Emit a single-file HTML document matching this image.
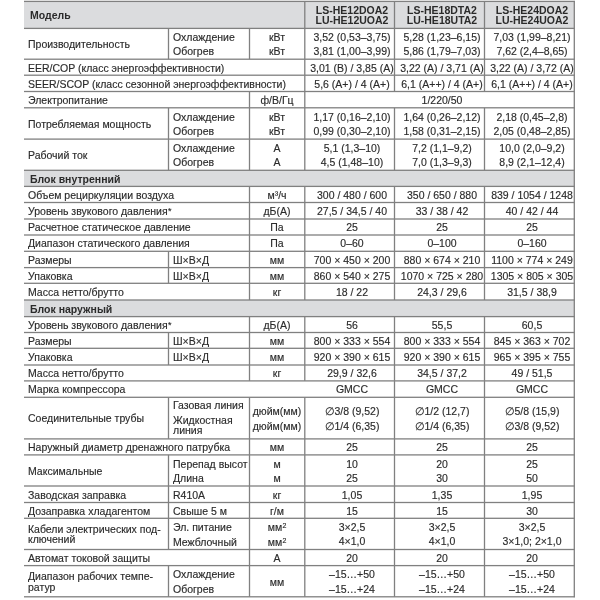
<!DOCTYPE html>
<html><head><meta charset="utf-8"><style>
html,body{margin:0;padding:0;background:#fff;width:600px;height:600px;overflow:hidden}
body{position:relative;font-family:"Liberation Sans",sans-serif;font-size:10.5px;color:#2b2b2b}
svg{position:absolute;left:0;top:0}
.t{position:absolute;line-height:12px;white-space:nowrap;will-change:transform;-webkit-text-stroke:0.15px #2b2b2b}
.b{-webkit-text-stroke:0}
.c{text-align:center;width:200px}
.b{font-weight:bold}
.ast{font-size:9px;position:relative;top:-1px;margin-left:0.5px}
sup{font-size:7px;vertical-align:baseline;position:relative;top:-3.5px;line-height:0;margin-left:0.3px}
</style></head><body>

<svg width="600" height="600" viewBox="0 0 600 600"><rect x="24" y="1.4" width="550.3" height="27" fill="#dbdcde"/><rect x="24" y="170.3" width="550.3" height="16.1" fill="#dbdcde"/><rect x="24" y="300" width="550.3" height="16.6" fill="#dbdcde"/><rect x="304.15" y="1.4" width="1.3" height="27" fill="#808080"/><rect x="393.85" y="1.4" width="1.3" height="27" fill="#808080"/><rect x="483.85" y="1.4" width="1.3" height="27" fill="#808080"/><rect x="167.85" y="28.4" width="1.3" height="30.8" fill="#808080"/><rect x="248.85" y="28.4" width="1.3" height="30.8" fill="#808080"/><rect x="304.15" y="28.4" width="1.3" height="30.8" fill="#808080"/><rect x="393.85" y="28.4" width="1.3" height="30.8" fill="#808080"/><rect x="483.85" y="28.4" width="1.3" height="30.8" fill="#808080"/><rect x="304.15" y="59.2" width="1.3" height="16" fill="#808080"/><rect x="393.85" y="59.2" width="1.3" height="16" fill="#808080"/><rect x="483.85" y="59.2" width="1.3" height="16" fill="#808080"/><rect x="304.15" y="75.2" width="1.3" height="16.3" fill="#808080"/><rect x="393.85" y="75.2" width="1.3" height="16.3" fill="#808080"/><rect x="483.85" y="75.2" width="1.3" height="16.3" fill="#808080"/><rect x="248.85" y="91.5" width="1.3" height="16.3" fill="#808080"/><rect x="304.15" y="91.5" width="1.3" height="16.3" fill="#808080"/><rect x="167.85" y="107.8" width="1.3" height="31.3" fill="#808080"/><rect x="248.85" y="107.8" width="1.3" height="31.3" fill="#808080"/><rect x="304.15" y="107.8" width="1.3" height="31.3" fill="#808080"/><rect x="393.85" y="107.8" width="1.3" height="31.3" fill="#808080"/><rect x="483.85" y="107.8" width="1.3" height="31.3" fill="#808080"/><rect x="167.85" y="139.1" width="1.3" height="31.2" fill="#808080"/><rect x="248.85" y="139.1" width="1.3" height="31.2" fill="#808080"/><rect x="304.15" y="139.1" width="1.3" height="31.2" fill="#808080"/><rect x="393.85" y="139.1" width="1.3" height="31.2" fill="#808080"/><rect x="483.85" y="139.1" width="1.3" height="31.2" fill="#808080"/><rect x="248.85" y="186.4" width="1.3" height="16.1" fill="#808080"/><rect x="304.15" y="186.4" width="1.3" height="16.1" fill="#808080"/><rect x="393.85" y="186.4" width="1.3" height="16.1" fill="#808080"/><rect x="483.85" y="186.4" width="1.3" height="16.1" fill="#808080"/><rect x="248.85" y="202.5" width="1.3" height="16.5" fill="#808080"/><rect x="304.15" y="202.5" width="1.3" height="16.5" fill="#808080"/><rect x="393.85" y="202.5" width="1.3" height="16.5" fill="#808080"/><rect x="483.85" y="202.5" width="1.3" height="16.5" fill="#808080"/><rect x="248.85" y="219" width="1.3" height="16" fill="#808080"/><rect x="304.15" y="219" width="1.3" height="16" fill="#808080"/><rect x="393.85" y="219" width="1.3" height="16" fill="#808080"/><rect x="483.85" y="219" width="1.3" height="16" fill="#808080"/><rect x="248.85" y="235" width="1.3" height="16.3" fill="#808080"/><rect x="304.15" y="235" width="1.3" height="16.3" fill="#808080"/><rect x="393.85" y="235" width="1.3" height="16.3" fill="#808080"/><rect x="483.85" y="235" width="1.3" height="16.3" fill="#808080"/><rect x="167.85" y="251.3" width="1.3" height="16.3" fill="#808080"/><rect x="248.85" y="251.3" width="1.3" height="16.3" fill="#808080"/><rect x="304.15" y="251.3" width="1.3" height="16.3" fill="#808080"/><rect x="393.85" y="251.3" width="1.3" height="16.3" fill="#808080"/><rect x="483.85" y="251.3" width="1.3" height="16.3" fill="#808080"/><rect x="167.85" y="267.6" width="1.3" height="15.7" fill="#808080"/><rect x="248.85" y="267.6" width="1.3" height="15.7" fill="#808080"/><rect x="304.15" y="267.6" width="1.3" height="15.7" fill="#808080"/><rect x="393.85" y="267.6" width="1.3" height="15.7" fill="#808080"/><rect x="483.85" y="267.6" width="1.3" height="15.7" fill="#808080"/><rect x="248.85" y="283.3" width="1.3" height="16.7" fill="#808080"/><rect x="304.15" y="283.3" width="1.3" height="16.7" fill="#808080"/><rect x="393.85" y="283.3" width="1.3" height="16.7" fill="#808080"/><rect x="483.85" y="283.3" width="1.3" height="16.7" fill="#808080"/><rect x="248.85" y="316.6" width="1.3" height="15.9" fill="#808080"/><rect x="304.15" y="316.6" width="1.3" height="15.9" fill="#808080"/><rect x="393.85" y="316.6" width="1.3" height="15.9" fill="#808080"/><rect x="483.85" y="316.6" width="1.3" height="15.9" fill="#808080"/><rect x="167.85" y="332.5" width="1.3" height="15.8" fill="#808080"/><rect x="248.85" y="332.5" width="1.3" height="15.8" fill="#808080"/><rect x="304.15" y="332.5" width="1.3" height="15.8" fill="#808080"/><rect x="393.85" y="332.5" width="1.3" height="15.8" fill="#808080"/><rect x="483.85" y="332.5" width="1.3" height="15.8" fill="#808080"/><rect x="167.85" y="348.3" width="1.3" height="16.7" fill="#808080"/><rect x="248.85" y="348.3" width="1.3" height="16.7" fill="#808080"/><rect x="304.15" y="348.3" width="1.3" height="16.7" fill="#808080"/><rect x="393.85" y="348.3" width="1.3" height="16.7" fill="#808080"/><rect x="483.85" y="348.3" width="1.3" height="16.7" fill="#808080"/><rect x="248.85" y="365" width="1.3" height="15.9" fill="#808080"/><rect x="304.15" y="365" width="1.3" height="15.9" fill="#808080"/><rect x="393.85" y="365" width="1.3" height="15.9" fill="#808080"/><rect x="483.85" y="365" width="1.3" height="15.9" fill="#808080"/><rect x="393.85" y="380.9" width="1.3" height="16.4" fill="#808080"/><rect x="483.85" y="380.9" width="1.3" height="16.4" fill="#808080"/><rect x="167.85" y="397.3" width="1.3" height="41.6" fill="#808080"/><rect x="248.85" y="397.3" width="1.3" height="41.6" fill="#808080"/><rect x="304.15" y="397.3" width="1.3" height="41.6" fill="#808080"/><rect x="393.85" y="397.3" width="1.3" height="41.6" fill="#808080"/><rect x="483.85" y="397.3" width="1.3" height="41.6" fill="#808080"/><rect x="248.85" y="438.9" width="1.3" height="16" fill="#808080"/><rect x="304.15" y="438.9" width="1.3" height="16" fill="#808080"/><rect x="393.85" y="438.9" width="1.3" height="16" fill="#808080"/><rect x="483.85" y="438.9" width="1.3" height="16" fill="#808080"/><rect x="167.85" y="454.9" width="1.3" height="31.1" fill="#808080"/><rect x="248.85" y="454.9" width="1.3" height="31.1" fill="#808080"/><rect x="304.15" y="454.9" width="1.3" height="31.1" fill="#808080"/><rect x="393.85" y="454.9" width="1.3" height="31.1" fill="#808080"/><rect x="483.85" y="454.9" width="1.3" height="31.1" fill="#808080"/><rect x="167.85" y="486" width="1.3" height="16.5" fill="#808080"/><rect x="248.85" y="486" width="1.3" height="16.5" fill="#808080"/><rect x="304.15" y="486" width="1.3" height="16.5" fill="#808080"/><rect x="393.85" y="486" width="1.3" height="16.5" fill="#808080"/><rect x="483.85" y="486" width="1.3" height="16.5" fill="#808080"/><rect x="167.85" y="502.5" width="1.3" height="15.8" fill="#808080"/><rect x="248.85" y="502.5" width="1.3" height="15.8" fill="#808080"/><rect x="304.15" y="502.5" width="1.3" height="15.8" fill="#808080"/><rect x="393.85" y="502.5" width="1.3" height="15.8" fill="#808080"/><rect x="483.85" y="502.5" width="1.3" height="15.8" fill="#808080"/><rect x="167.85" y="518.3" width="1.3" height="31.2" fill="#808080"/><rect x="248.85" y="518.3" width="1.3" height="31.2" fill="#808080"/><rect x="304.15" y="518.3" width="1.3" height="31.2" fill="#808080"/><rect x="393.85" y="518.3" width="1.3" height="31.2" fill="#808080"/><rect x="483.85" y="518.3" width="1.3" height="31.2" fill="#808080"/><rect x="248.85" y="549.5" width="1.3" height="16.1" fill="#808080"/><rect x="304.15" y="549.5" width="1.3" height="16.1" fill="#808080"/><rect x="393.85" y="549.5" width="1.3" height="16.1" fill="#808080"/><rect x="483.85" y="549.5" width="1.3" height="16.1" fill="#808080"/><rect x="167.85" y="565.6" width="1.3" height="31.2" fill="#808080"/><rect x="248.85" y="565.6" width="1.3" height="31.2" fill="#808080"/><rect x="304.15" y="565.6" width="1.3" height="31.2" fill="#808080"/><rect x="393.85" y="565.6" width="1.3" height="31.2" fill="#808080"/><rect x="483.85" y="565.6" width="1.3" height="31.2" fill="#808080"/><rect x="573.65" y="0.9" width="1.3" height="596.4" fill="#808080"/><rect x="24" y="0.75" width="550.8" height="1.3" fill="#808080"/><rect x="24" y="27.75" width="550.8" height="1.3" fill="#808080"/><rect x="24" y="58.55" width="550.8" height="1.3" fill="#808080"/><rect x="24" y="74.55" width="550.8" height="1.3" fill="#808080"/><rect x="24" y="90.85" width="550.8" height="1.3" fill="#808080"/><rect x="24" y="107.15" width="550.8" height="1.3" fill="#808080"/><rect x="24" y="138.45" width="550.8" height="1.3" fill="#808080"/><rect x="24" y="169.65" width="550.8" height="1.3" fill="#808080"/><rect x="24" y="185.75" width="550.8" height="1.3" fill="#808080"/><rect x="24" y="201.85" width="550.8" height="1.3" fill="#808080"/><rect x="24" y="218.35" width="550.8" height="1.3" fill="#808080"/><rect x="24" y="234.35" width="550.8" height="1.3" fill="#808080"/><rect x="24" y="250.65" width="550.8" height="1.3" fill="#808080"/><rect x="24" y="266.95" width="550.8" height="1.3" fill="#808080"/><rect x="24" y="282.65" width="550.8" height="1.3" fill="#808080"/><rect x="24" y="299.35" width="550.8" height="1.3" fill="#808080"/><rect x="24" y="315.95" width="550.8" height="1.3" fill="#808080"/><rect x="24" y="331.85" width="550.8" height="1.3" fill="#808080"/><rect x="24" y="347.65" width="550.8" height="1.3" fill="#808080"/><rect x="24" y="364.35" width="550.8" height="1.3" fill="#808080"/><rect x="24" y="380.25" width="550.8" height="1.3" fill="#808080"/><rect x="24" y="396.65" width="550.8" height="1.3" fill="#808080"/><rect x="24" y="438.25" width="550.8" height="1.3" fill="#808080"/><rect x="24" y="454.25" width="550.8" height="1.3" fill="#808080"/><rect x="24" y="485.35" width="550.8" height="1.3" fill="#808080"/><rect x="24" y="501.85" width="550.8" height="1.3" fill="#808080"/><rect x="24" y="517.65" width="550.8" height="1.3" fill="#808080"/><rect x="24" y="548.85" width="550.8" height="1.3" fill="#808080"/><rect x="24" y="564.95" width="550.8" height="1.3" fill="#808080"/><rect x="24" y="596.15" width="550.8" height="1.3" fill="#808080"/></svg>
<div class="t b" style="left:30px;top:9px">Модель</div>
<div class="t b c" style="left:251.95px;top:4px">LS-HE12DOA2</div>
<div class="t b c" style="left:251.95px;top:14px">LU-HE12UOA2</div>
<div class="t b c" style="left:341.8px;top:4px">LS-HE18DTA2</div>
<div class="t b c" style="left:341.8px;top:14px">LU-HE18UTA2</div>
<div class="t b c" style="left:431.7px;top:4px">LS-HE24DOA2</div>
<div class="t b c" style="left:431.7px;top:14px">LU-HE24UOA2</div>
<div class="t" style="left:28px;top:38px">Производительность</div>
<div class="t" style="left:172.5px;top:31px">Охлаждение</div>
<div class="t" style="left:172.5px;top:45px">Обогрев</div>
<div class="t c" style="left:176.8px;top:31px">кВт</div>
<div class="t c" style="left:176.8px;top:45px">кВт</div>
<div class="t c" style="left:251.95px;top:31px">3,52 (0,53–3,75)</div>
<div class="t c" style="left:251.95px;top:45px">3,81 (1,00–3,99)</div>
<div class="t c" style="left:341.8px;top:31px">5,28 (1,23–6,15)</div>
<div class="t c" style="left:341.8px;top:45px">5,86 (1,79–7,03)</div>
<div class="t c" style="left:431.7px;top:31px">7,03 (1,99–8,21)</div>
<div class="t c" style="left:431.7px;top:45px">7,62 (2,4–8,65)</div>
<div class="t" style="left:28px;top:62px">EER/COP (класс энергоэффективности)</div>
<div class="t c" style="left:251.95px;top:62px">3,01 (B) / 3,85 (A)</div>
<div class="t c" style="left:341.8px;top:62px">3,22 (A) / 3,71 (A)</div>
<div class="t c" style="left:431.7px;top:62px">3,22 (A) / 3,72 (A)</div>
<div class="t" style="left:28px;top:78px">SEER/SCOP (класс сезонной энергоэффективности)</div>
<div class="t c" style="left:251.95px;top:78px">5,6 (A+) / 4 (A+)</div>
<div class="t c" style="left:341.8px;top:78px">6,1 (A++) / 4 (A+)</div>
<div class="t c" style="left:431.7px;top:78px">6,1 (A++) / 4 (A+)</div>
<div class="t" style="left:28px;top:94px">Электропитание</div>
<div class="t c" style="left:176.8px;top:94px">ф/В/Гц</div>
<div class="t c" style="left:341.85px;top:94px">1/220/50</div>
<div class="t" style="left:28px;top:118px">Потребляемая мощность</div>
<div class="t" style="left:172.5px;top:111px">Охлаждение</div>
<div class="t" style="left:172.5px;top:125px">Обогрев</div>
<div class="t c" style="left:176.8px;top:111px">кВт</div>
<div class="t c" style="left:176.8px;top:125px">кВт</div>
<div class="t c" style="left:251.95px;top:111px">1,17 (0,16–2,10)</div>
<div class="t c" style="left:251.95px;top:125px">0,99 (0,30–2,10)</div>
<div class="t c" style="left:341.8px;top:111px">1,64 (0,26–2,12)</div>
<div class="t c" style="left:341.8px;top:125px">1,58 (0,31–2,15)</div>
<div class="t c" style="left:431.7px;top:111px">2,18 (0,45–2,8)</div>
<div class="t c" style="left:431.7px;top:125px">2,05 (0,48–2,85)</div>
<div class="t" style="left:28px;top:149px">Рабочий ток</div>
<div class="t" style="left:172.5px;top:142px">Охлаждение</div>
<div class="t" style="left:172.5px;top:156px">Обогрев</div>
<div class="t c" style="left:176.8px;top:142px">А</div>
<div class="t c" style="left:176.8px;top:156px">А</div>
<div class="t c" style="left:251.95px;top:142px">5,1 (1,3–10)</div>
<div class="t c" style="left:251.95px;top:156px">4,5 (1,48–10)</div>
<div class="t c" style="left:341.8px;top:142px">7,2 (1,1–9,2)</div>
<div class="t c" style="left:341.8px;top:156px">7,0 (1,3–9,3)</div>
<div class="t c" style="left:431.7px;top:142px">10,0 (2,0–9,2)</div>
<div class="t c" style="left:431.7px;top:156px">8,9 (2,1–12,4)</div>
<div class="t b" style="left:30px;top:173px">Блок внутренний</div>
<div class="t" style="left:28px;top:189px">Объем рециркуляции воздуха</div>
<div class="t c" style="left:176.8px;top:189px">м³/ч</div>
<div class="t c" style="left:251.95px;top:189px">300 / 480 / 600</div>
<div class="t c" style="left:341.8px;top:189px">350 / 650 / 880</div>
<div class="t c" style="left:431.7px;top:189px">839 / 1054 / 1248</div>
<div class="t" style="left:28px;top:205px">Уровень звукового давления<span class="ast">*</span></div>
<div class="t c" style="left:176.8px;top:205px">дБ(А)</div>
<div class="t c" style="left:251.95px;top:205px">27,5 / 34,5 / 40</div>
<div class="t c" style="left:341.8px;top:205px">33 / 38 / 42</div>
<div class="t c" style="left:431.7px;top:205px">40 / 42 / 44</div>
<div class="t" style="left:28px;top:221px">Расчетное статическое давление</div>
<div class="t c" style="left:176.8px;top:221px">Па</div>
<div class="t c" style="left:251.95px;top:221px">25</div>
<div class="t c" style="left:341.8px;top:221px">25</div>
<div class="t c" style="left:431.7px;top:221px">25</div>
<div class="t" style="left:28px;top:237px">Диапазон статического давления</div>
<div class="t c" style="left:176.8px;top:237px">Па</div>
<div class="t c" style="left:251.95px;top:237px">0–60</div>
<div class="t c" style="left:341.8px;top:237px">0–100</div>
<div class="t c" style="left:431.7px;top:237px">0–160</div>
<div class="t" style="left:28px;top:254px">Размеры</div>
<div class="t" style="left:172.5px;top:254px">Ш×В×Д</div>
<div class="t c" style="left:176.8px;top:254px">мм</div>
<div class="t c" style="left:251.95px;top:254px">700 × 450 × 200</div>
<div class="t c" style="left:341.8px;top:254px">880 × 674 × 210</div>
<div class="t c" style="left:431.7px;top:254px">1100 × 774 × 249</div>
<div class="t" style="left:28px;top:270px">Упаковка</div>
<div class="t" style="left:172.5px;top:270px">Ш×В×Д</div>
<div class="t c" style="left:176.8px;top:270px">мм</div>
<div class="t c" style="left:251.95px;top:270px">860 × 540 × 275</div>
<div class="t c" style="left:341.8px;top:270px">1070 × 725 × 280</div>
<div class="t c" style="left:431.7px;top:270px">1305 × 805 × 305</div>
<div class="t" style="left:28px;top:286px">Масса нетто/брутто</div>
<div class="t c" style="left:176.8px;top:286px">кг</div>
<div class="t c" style="left:251.95px;top:286px">18 / 22</div>
<div class="t c" style="left:341.8px;top:286px">24,3 / 29,6</div>
<div class="t c" style="left:431.7px;top:286px">31,5 / 38,9</div>
<div class="t b" style="left:30px;top:303px">Блок наружный</div>
<div class="t" style="left:28px;top:319px">Уровень звукового давления<span class="ast">*</span></div>
<div class="t c" style="left:176.8px;top:319px">дБ(А)</div>
<div class="t c" style="left:251.95px;top:319px">56</div>
<div class="t c" style="left:341.8px;top:319px">55,5</div>
<div class="t c" style="left:431.7px;top:319px">60,5</div>
<div class="t" style="left:28px;top:335px">Размеры</div>
<div class="t" style="left:172.5px;top:335px">Ш×В×Д</div>
<div class="t c" style="left:176.8px;top:335px">мм</div>
<div class="t c" style="left:251.95px;top:335px">800 × 333 × 554</div>
<div class="t c" style="left:341.8px;top:335px">800 × 333 × 554</div>
<div class="t c" style="left:431.7px;top:335px">845 × 363 × 702</div>
<div class="t" style="left:28px;top:351px">Упаковка</div>
<div class="t" style="left:172.5px;top:351px">Ш×В×Д</div>
<div class="t c" style="left:176.8px;top:351px">мм</div>
<div class="t c" style="left:251.95px;top:351px">920 × 390 × 615</div>
<div class="t c" style="left:341.8px;top:351px">920 × 390 × 615</div>
<div class="t c" style="left:431.7px;top:351px">965 × 395 × 755</div>
<div class="t" style="left:28px;top:367px">Масса нетто/брутто</div>
<div class="t c" style="left:176.8px;top:367px">кг</div>
<div class="t c" style="left:251.95px;top:367px">29,9 / 32,6</div>
<div class="t c" style="left:341.8px;top:367px">34,5 / 37,2</div>
<div class="t c" style="left:431.7px;top:367px">49 / 51,5</div>
<div class="t" style="left:28px;top:383px">Марка компрессора</div>
<div class="t c" style="left:251.95px;top:383px">GMCC</div>
<div class="t c" style="left:341.8px;top:383px">GMCC</div>
<div class="t c" style="left:431.7px;top:383px">GMCC</div>
<div class="t" style="left:28px;top:412px">Соединительные трубы</div>
<div class="t" style="left:172.5px;top:399px">Газовая линия</div>
<div class="t" style="left:172.5px;top:414px">Жидкостная</div>
<div class="t" style="left:172.5px;top:424px">линия</div>
<div class="t c" style="left:176.8px;top:405px">дюйм(мм)</div>
<div class="t c" style="left:176.8px;top:420px">дюйм(мм)</div>
<div class="t c" style="left:251.95px;top:405px">∅3/8 (9,52)</div>
<div class="t c" style="left:251.95px;top:420px">∅1/4 (6,35)</div>
<div class="t c" style="left:341.8px;top:405px">∅1/2 (12,7)</div>
<div class="t c" style="left:341.8px;top:420px">∅1/4 (6,35)</div>
<div class="t c" style="left:431.7px;top:405px">∅5/8 (15,9)</div>
<div class="t c" style="left:431.7px;top:420px">∅3/8 (9,52)</div>
<div class="t" style="left:28px;top:441px">Наружный диаметр дренажного патрубка</div>
<div class="t c" style="left:176.8px;top:441px">мм</div>
<div class="t c" style="left:251.95px;top:441px">25</div>
<div class="t c" style="left:341.8px;top:441px">25</div>
<div class="t c" style="left:431.7px;top:441px">25</div>
<div class="t" style="left:28px;top:465px">Максимальные</div>
<div class="t" style="left:172.5px;top:458px">Перепад высот</div>
<div class="t" style="left:172.5px;top:472px">Длина</div>
<div class="t c" style="left:176.8px;top:458px">м</div>
<div class="t c" style="left:176.8px;top:472px">м</div>
<div class="t c" style="left:251.95px;top:458px">10</div>
<div class="t c" style="left:251.95px;top:472px">25</div>
<div class="t c" style="left:341.8px;top:458px">20</div>
<div class="t c" style="left:341.8px;top:472px">30</div>
<div class="t c" style="left:431.7px;top:458px">25</div>
<div class="t c" style="left:431.7px;top:472px">50</div>
<div class="t" style="left:28px;top:489px">Заводская заправка</div>
<div class="t" style="left:172.5px;top:489px">R410A</div>
<div class="t c" style="left:176.8px;top:489px">кг</div>
<div class="t c" style="left:251.95px;top:489px">1,05</div>
<div class="t c" style="left:341.8px;top:489px">1,35</div>
<div class="t c" style="left:431.7px;top:489px">1,95</div>
<div class="t" style="left:28px;top:505px">Дозаправка хладагентом</div>
<div class="t" style="left:172.5px;top:505px">Свыше 5 м</div>
<div class="t c" style="left:176.8px;top:505px">г/м</div>
<div class="t c" style="left:251.95px;top:505px">15</div>
<div class="t c" style="left:341.8px;top:505px">15</div>
<div class="t c" style="left:431.7px;top:505px">30</div>
<div class="t" style="left:28px;top:523px">Кабели электрических под-</div>
<div class="t" style="left:28px;top:533px">ключений</div>
<div class="t" style="left:172.5px;top:521px">Эл. питание</div>
<div class="t" style="left:172.5px;top:536px">Межблочный</div>
<div class="t c" style="left:176.8px;top:521px">мм<sup>2</sup></div>
<div class="t c" style="left:176.8px;top:536px">мм<sup>2</sup></div>
<div class="t c" style="left:251.95px;top:521px">3×2,5</div>
<div class="t c" style="left:251.95px;top:535px">4×1,0</div>
<div class="t c" style="left:341.8px;top:521px">3×2,5</div>
<div class="t c" style="left:341.8px;top:535px">4×1,0</div>
<div class="t c" style="left:431.7px;top:521px">3×2,5</div>
<div class="t c" style="left:431.7px;top:535px">3×1,0; 2×1,0</div>
<div class="t" style="left:28px;top:552px">Автомат токовой защиты</div>
<div class="t c" style="left:176.8px;top:552px">А</div>
<div class="t c" style="left:251.95px;top:552px">20</div>
<div class="t c" style="left:341.8px;top:552px">20</div>
<div class="t c" style="left:431.7px;top:552px">20</div>
<div class="t" style="left:28px;top:570px">Диапазон рабочих темпе-</div>
<div class="t" style="left:28px;top:581px">ратур</div>
<div class="t" style="left:172.5px;top:568px">Охлаждение</div>
<div class="t" style="left:172.5px;top:583px">Обогрев</div>
<div class="t c" style="left:176.8px;top:576px">мм</div>
<div class="t c" style="left:251.95px;top:568px">–15…+50</div>
<div class="t c" style="left:251.95px;top:583px">–15…+24</div>
<div class="t c" style="left:341.8px;top:568px">–15…+50</div>
<div class="t c" style="left:341.8px;top:583px">–15…+24</div>
<div class="t c" style="left:431.7px;top:568px">–15…+50</div>
<div class="t c" style="left:431.7px;top:583px">–15…+24</div>
</body></html>
